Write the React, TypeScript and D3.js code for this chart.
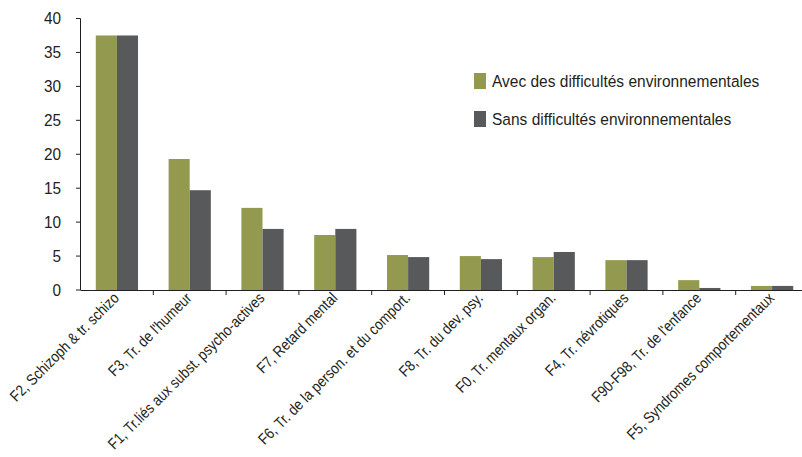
import React from "react";
import * as d3 from "d3";

const categories = [
  "F2, Schizoph & tr. schizo",
  "F3, Tr. de l'humeur",
  "F1, Tr.liés aux subst. psycho-actives",
  "F7, Retard mental",
  "F6, Tr. de la person. et du comport.",
  "F8, Tr. du dev. psy.",
  "F0, Tr. mentaux organ.",
  "F4, Tr. névrotiques",
  "F90-F98, Tr. de l'enfance",
  "F5, Syndromes comportementaux",
];
const avecValues = [37.5, 19.3, 12.1, 8.1, 5.15, 5.0, 4.85, 4.4, 1.45, 0.6];
const sansValues = [37.5, 14.7, 9.0, 9.0, 4.85, 4.55, 5.6, 4.4, 0.3, 0.6];
const seriesNames = ["Avec des difficultés environnementales", "Sans difficultés environnementales"];
const yTicks = [0, 5, 10, 15, 20, 25, 30, 35, 40];

const W = 802;
const H = 457;
const FONT = "'Liberation Sans', Arial, Helvetica, sans-serif";
const colors = ["#939A4F", "#58595B"];
const textColor = "#231F20";

export default function App() {
  const x = d3.scaleBand<string>().domain(categories).range([80.5, 808.5]).paddingInner(0).paddingOuter(0);
  const y = d3.scaleLinear().domain([0, 40]).range([290, 18.5]);
  const bw = x.bandwidth();
  const groupW = bw * 0.58;
  const x1 = d3.scaleBand<number>().domain([0, 1]).range([0, groupW]);
  const series = [avecValues, sansValues];

  return (
    <svg width={W} height={H} style={{ position: "absolute", left: 0, top: 0 }} fontFamily={FONT}>
      <rect width={W} height={H} fill="#fff" />
      {series.map((vals, si) =>
        vals.map((v, i) => (
          <rect
            key={si + "-" + i}
            x={(x(categories[i]) as number) + (bw - groupW) / 2 + (x1(si) as number)}
            y={y(v)}
            width={x1.bandwidth()}
            height={y(0) - y(v)}
            fill={colors[si]}
          />
        ))
      )}
      {/* y axis */}
      <line x1={80.5} x2={80.5} y1={y(40)} y2={y(0)} stroke={textColor} strokeWidth={1} />
      {yTicks.map((t) => (
        <g key={t}>
          <line x1={76} x2={80.5} y1={y(t)} y2={y(t)} stroke={textColor} />
          <text
            transform={`translate(61,${y(t)}) scale(0.93,1)`}
            dy="0.36em"
            textAnchor="end"
            fontSize={16.5}
            fill={textColor}
          >
            {t}
          </text>
        </g>
      ))}
      {/* x axis */}
      <line x1={80.5} x2={W} y1={y(0) + 0.5} y2={y(0) + 0.5} stroke={textColor} strokeWidth={1.2} />
      {categories.map((c, i) => {
        const xt = (x(c) as number) + bw;
        const cx = (x(c) as number) + bw / 2;
        return (
          <g key={c}>
            <line x1={xt} x2={xt} y1={y(0)} y2={y(0) + 5} stroke={textColor} />
            <text
              transform={`translate(${cx + 3},${y(0) + 9}) rotate(-45) scale(0.86,1)`}
              textAnchor="end"
              fontSize={15.5}
              fill={textColor}
            >
              {c}
            </text>
          </g>
        );
      })}
      {/* legend */}
      {seriesNames.map((n, i) => (
        <g key={n} transform={`translate(474,${73 + i * 38})`}>
          <rect x={0} y={0} width={12} height={16} fill={colors[i]} />
          <text transform="translate(18,14) scale(0.94,1)" fontSize={16.5} fill={textColor}>
            {n}
          </text>
        </g>
      ))}
    </svg>
  );
}
